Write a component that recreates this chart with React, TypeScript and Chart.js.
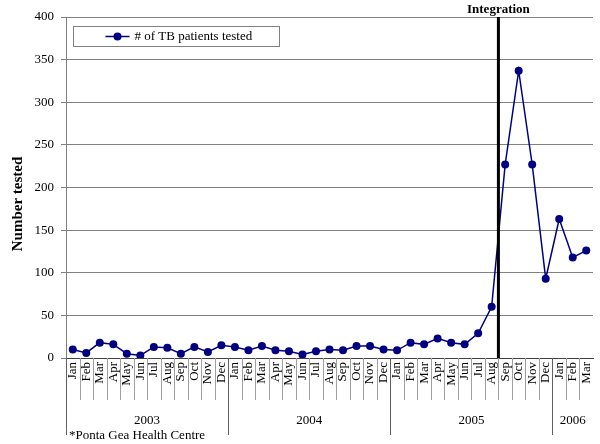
import React, { useEffect, useRef } from "react";
import { Chart, registerables } from "chart.js";

Chart.register(...registerables);

const monthNames = ["Jan", "Feb", "Mar", "Apr", "May", "Jun", "Jul", "Aug", "Sep", "Oct", "Nov", "Dec"];
const years = ["2003", "2004", "2005", "2006"];
const monthsPerYear = [12, 12, 12, 3];
const seriesLabel = "# of TB patients tested";
const tested = [
  10, 6, 18, 16, 5, 3, 13, 12, 5, 13, 7, 15,
  13, 9, 14, 9, 8, 4, 8, 10, 9, 14, 14, 10,
  9, 18, 16, 23, 18, 16, 29, 60, 227, 337, 227, 93,
  163, 118, 126,
];
const yMin = 0;
const yMax = 400;
const yStep = 50;
const integrationLabel = "Integration";
const integrationAfterIndex = 31; // line between Aug 2005 and Sep 2005
const footnote = "*Ponta Gea Health Centre";
const yTitle = "Number tested";

const categories: string[] = [];
years.forEach((_, yi) => {
  for (let m = 0; m < monthsPerYear[yi]; m++) categories.push(monthNames[m]);
});

const FONT = "'Liberation Serif', 'Times New Roman', serif";
const NAVY = "#000080";

const overlayPlugin = {
  id: "overlay",
  afterDraw(chart: any) {
    const ctx = chart.ctx as CanvasRenderingContext2D;
    const area = chart.chartArea;
    const xs = chart.scales.x;
    const n = categories.length;
    const step = xs.getPixelForValue(1) - xs.getPixelForValue(0);
    const boundary = (i: number) => xs.getPixelForValue(i) - step / 2;

    ctx.save();
    // y axis title
    ctx.save();
    ctx.translate(18, 204);
    ctx.rotate(-Math.PI / 2);
    ctx.fillStyle = "#000";
    ctx.font = `bold 15px ${FONT}`;
    ctx.textAlign = "center";
    ctx.textBaseline = "middle";
    ctx.fillText(yTitle, 0, 0);
    ctx.restore();

    // month separators
    ctx.strokeStyle = "#a0a0a0";
    ctx.lineWidth = 1;
    for (let i = 1; i < n; i++) {
      const x = Math.round(boundary(i)) + 0.5;
      ctx.beginPath();
      ctx.moveTo(x, area.bottom);
      ctx.lineTo(x, area.bottom + 42);
      ctx.stroke();
    }
    // year separators and labels
    ctx.strokeStyle = "#606060";
    let start = 0;
    ctx.fillStyle = "#000";
    ctx.font = `13px ${FONT}`;
    ctx.textAlign = "center";
    ctx.textBaseline = "middle";
    years.forEach((yr, yi) => {
      const x0 = boundary(start);
      const x1 = boundary(start + monthsPerYear[yi]);
      const xl = Math.round(x0) + 0.5;
      ctx.beginPath();
      ctx.moveTo(xl, area.bottom);
      ctx.lineTo(xl, area.bottom + 77);
      ctx.stroke();
      ctx.fillText(yr, (x0 + x1) / 2, area.bottom + 63);
      start += monthsPerYear[yi];
    });
    // footnote
    ctx.textAlign = "left";
    ctx.textBaseline = "top";
    ctx.font = `13px ${FONT}`;
    ctx.fillText(footnote, area.left + 3, area.bottom + 71);

    // integration line
    const xi = (xs.getPixelForValue(integrationAfterIndex) + xs.getPixelForValue(integrationAfterIndex + 1)) / 2;
    ctx.strokeStyle = "#000";
    ctx.lineWidth = 3;
    ctx.beginPath();
    ctx.moveTo(xi, area.top);
    ctx.lineTo(xi, area.bottom);
    ctx.stroke();
    ctx.font = `bold 13px ${FONT}`;
    ctx.textAlign = "center";
    ctx.textBaseline = "middle";
    ctx.fillText(integrationLabel, xi, area.top - 7);

    // legend
    const lx = area.left + 7.5;
    const ly = area.top + 9.5;
    ctx.fillStyle = "#fff";
    ctx.fillRect(lx, ly, 206, 20);
    ctx.strokeStyle = "#808080";
    ctx.lineWidth = 1;
    ctx.strokeRect(lx, ly, 206, 20);
    ctx.strokeStyle = NAVY;
    ctx.lineWidth = 1.5;
    ctx.beginPath();
    ctx.moveTo(lx + 32, ly + 10);
    ctx.lineTo(lx + 56, ly + 10);
    ctx.stroke();
    ctx.fillStyle = NAVY;
    ctx.beginPath();
    ctx.arc(lx + 44, ly + 10, 4, 0, Math.PI * 2);
    ctx.fill();
    ctx.fillStyle = "#000";
    ctx.font = `13px ${FONT}`;
    ctx.textAlign = "left";
    ctx.textBaseline = "middle";
    ctx.fillText(seriesLabel, lx + 61, ly + 10.5);
    ctx.restore();
  },
};

export default function App() {
  const ref = useRef<HTMLCanvasElement | null>(null);
  useEffect(() => {
    document.body.style.margin = "0";
    const canvas = ref.current;
    if (!canvas) return;
    const chart = new Chart(canvas, {
      type: "line",
      data: {
        labels: categories,
        datasets: [
          {
            label: seriesLabel,
            data: tested,
            borderColor: NAVY,
            backgroundColor: NAVY,
            borderWidth: 1.5,
            pointRadius: 4,
            pointBackgroundColor: NAVY,
            pointBorderColor: NAVY,
            pointBorderWidth: 0,
            tension: 0,
          },
        ],
      },
      options: {
        responsive: false,
        animation: false,
        layout: { padding: { top: 17, right: 7, left: 0, bottom: 0 } },
        plugins: { legend: { display: false }, tooltip: { enabled: false } },
        scales: {
          x: {
            type: "category",
            offset: true,
            grid: { display: false, drawTicks: false },
            border: { display: true, color: "#404040", width: 1 },
            ticks: {
              autoSkip: false,
              maxRotation: 90,
              minRotation: 90,
              padding: 4,
              color: "#000",
              font: { family: FONT, size: 13 },
            },
            afterFit: (s: any) => {
              s.height = 86;
              s.paddingLeft = 0;
              s.paddingRight = 0;
            },
          },
          y: {
            min: yMin,
            max: yMax,
            ticks: {
              stepSize: yStep,
              padding: 7,
              color: "#000",
              font: { family: FONT, size: 13 },
            },
            grid: { color: "#808080", tickLength: 5, drawTicks: true },
            border: { color: "#808080" },
            title: { display: false },
            afterFit: (s: any) => {
              s.width = 66;
              s.paddingTop = 0;
              s.paddingBottom = 0;
            },
          },
        },
      },
      plugins: [overlayPlugin],
    });
    return () => chart.destroy();
  }, []);
  return (
    <div style={{ width: 600, height: 444 }}>
      <canvas ref={ref} width={600} height={444} />
    </div>
  );
}
